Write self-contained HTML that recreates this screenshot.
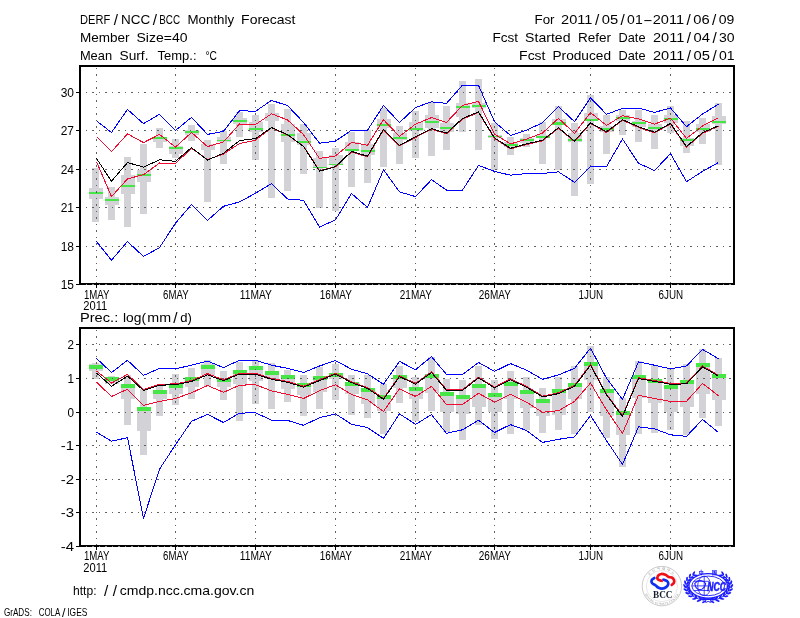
<!DOCTYPE html>
<html lang="en"><head><meta charset="utf-8"><title>DERF/NCC/BCC Monthly Forecast</title>
<style>html,body{margin:0;padding:0;background:#fff;}body{width:800px;height:618px;overflow:hidden;}svg{display:block;}svg text{font-family:'Liberation Sans', 'DejaVu Sans', sans-serif;fill:#000;}</style>
</head><body>
<svg width="800" height="618" viewBox="0 0 800 618">
<rect width="800" height="618" fill="#fff"/>
<text y="23.8" font-size="13.2" xml:space="preserve"><tspan x="80.1" textLength="30.2" lengthAdjust="spacingAndGlyphs">DERF</tspan><tspan x="113.7" dy="1.3" font-size="15.3">/</tspan><tspan x="121.1" dy="-1.3" textLength="29.2" lengthAdjust="spacingAndGlyphs">NCC</tspan><tspan x="152.7" dy="1.3" font-size="15.3">/</tspan><tspan x="159.3" dy="-1.3" textLength="20.8" lengthAdjust="spacingAndGlyphs">BCC</tspan> <tspan x="187.5" textLength="46.6" lengthAdjust="spacingAndGlyphs">Monthly</tspan> <tspan x="241.1" textLength="54.4" lengthAdjust="spacingAndGlyphs">Forecast</tspan></text>
<text y="42.1" font-size="13.2" xml:space="preserve"><tspan x="79.9" textLength="49.6" lengthAdjust="spacingAndGlyphs">Member</tspan> <tspan x="136.5" textLength="51.0" lengthAdjust="spacingAndGlyphs">Size=40</tspan></text>
<text y="60" font-size="13.2" xml:space="preserve"><tspan x="79.9" textLength="32.2" lengthAdjust="spacingAndGlyphs">Mean</tspan> <tspan x="119.5" textLength="29.0" lengthAdjust="spacingAndGlyphs">Surf.</tspan> <tspan x="157.5" textLength="39.0" lengthAdjust="spacingAndGlyphs">Temp.:</tspan> <tspan x="205.5" textLength="11.5" lengthAdjust="spacingAndGlyphs">°C</tspan></text>
<text y="23.8" font-size="13.2" xml:space="preserve"><tspan x="534.5" textLength="20.0" lengthAdjust="spacingAndGlyphs">For</tspan> <tspan x="561.1" textLength="31.3" lengthAdjust="spacingAndGlyphs">2011</tspan><tspan x="594.9" dy="1.3" font-size="15.3">/</tspan><tspan x="601.7" dy="-1.3" textLength="16.4" lengthAdjust="spacingAndGlyphs">05</tspan><tspan x="620.5" dy="1.3" font-size="15.3">/</tspan><tspan x="627.1" dy="-1.3" textLength="15.6" lengthAdjust="spacingAndGlyphs">01</tspan><tspan x="642.9" textLength="9.8" lengthAdjust="spacingAndGlyphs">-</tspan><tspan x="652.7" textLength="31.3" lengthAdjust="spacingAndGlyphs">2011</tspan><tspan x="686.5" dy="1.3" font-size="15.3">/</tspan><tspan x="693.3" dy="-1.3" textLength="16.4" lengthAdjust="spacingAndGlyphs">06</tspan><tspan x="712.1" dy="1.3" font-size="15.3">/</tspan><tspan x="718.7" dy="-1.3" textLength="15.6" lengthAdjust="spacingAndGlyphs">09</tspan></text>
<text y="42.1" font-size="13.2" xml:space="preserve"><tspan x="492.5" textLength="25.6" lengthAdjust="spacingAndGlyphs">Fcst</tspan> <tspan x="525.1" textLength="45.4" lengthAdjust="spacingAndGlyphs">Started</tspan> <tspan x="577.9" textLength="33.1" lengthAdjust="spacingAndGlyphs">Refer</tspan> <tspan x="618.5" textLength="27.0" lengthAdjust="spacingAndGlyphs">Date</tspan> <tspan x="653.0" textLength="31.3" lengthAdjust="spacingAndGlyphs">2011</tspan><tspan x="686.8" dy="1.3" font-size="15.3">/</tspan><tspan x="693.6" dy="-1.3" textLength="16.4" lengthAdjust="spacingAndGlyphs">04</tspan><tspan x="712.4" dy="1.3" font-size="15.3">/</tspan><tspan x="719.0" dy="-1.3" textLength="15.6" lengthAdjust="spacingAndGlyphs">30</tspan></text>
<text y="60" font-size="13.2" xml:space="preserve"><tspan x="519.1" textLength="26.4" lengthAdjust="spacingAndGlyphs">Fcst</tspan> <tspan x="552.5" textLength="58.5" lengthAdjust="spacingAndGlyphs">Produced</tspan> <tspan x="618.5" textLength="27.0" lengthAdjust="spacingAndGlyphs">Date</tspan> <tspan x="653.0" textLength="31.3" lengthAdjust="spacingAndGlyphs">2011</tspan><tspan x="686.8" dy="1.3" font-size="15.3">/</tspan><tspan x="693.6" dy="-1.3" textLength="16.4" lengthAdjust="spacingAndGlyphs">05</tspan><tspan x="712.4" dy="1.3" font-size="15.3">/</tspan><tspan x="719.0" dy="-1.3" textLength="15.6" lengthAdjust="spacingAndGlyphs">01</tspan></text>
<g shape-rendering="crispEdges">
<rect x="92.0" y="168.2" width="7.0" height="53.4" fill="#d3d3d7"/>
<rect x="89.0" y="188.2" width="14.0" height="10.6" fill="#d3d3d7"/>
<rect x="108.0" y="187.0" width="7.0" height="32.6" fill="#d3d3d7"/>
<rect x="105.0" y="197.2" width="14.0" height="7.6" fill="#d3d3d7"/>
<rect x="124.0" y="156.9" width="7.0" height="69.9" fill="#d3d3d7"/>
<rect x="121.0" y="175.0" width="14.0" height="18.7" fill="#d3d3d7"/>
<rect x="140.0" y="143.9" width="7.0" height="69.9" fill="#d3d3d7"/>
<rect x="137.0" y="169.9" width="14.0" height="11.8" fill="#d3d3d7"/>
<rect x="156.0" y="128.0" width="7.0" height="19.6" fill="#d3d3d7"/>
<rect x="153.0" y="136.6" width="14.0" height="5.3" fill="#d3d3d7"/>
<rect x="172.0" y="139.0" width="7.0" height="18.7" fill="#d3d3d7"/>
<rect x="169.0" y="146.3" width="14.0" height="7.3" fill="#d3d3d7"/>
<rect x="188.0" y="124.9" width="7.0" height="16.5" fill="#d3d3d7"/>
<rect x="185.0" y="130.0" width="14.0" height="5.0" fill="#d3d3d7"/>
<rect x="204.0" y="139.8" width="7.0" height="61.9" fill="#d3d3d7"/>
<rect x="201.0" y="143.9" width="14.0" height="5.7" fill="#d3d3d7"/>
<rect x="220.0" y="131.0" width="7.0" height="32.7" fill="#d3d3d7"/>
<rect x="217.0" y="137.0" width="14.0" height="4.9" fill="#d3d3d7"/>
<rect x="236.0" y="111.8" width="7.0" height="24.9" fill="#d3d3d7"/>
<rect x="233.0" y="118.3" width="14.0" height="5.7" fill="#d3d3d7"/>
<rect x="252.0" y="115.0" width="7.0" height="44.7" fill="#d3d3d7"/>
<rect x="249.0" y="122.4" width="14.0" height="9.7" fill="#d3d3d7"/>
<rect x="268.0" y="104.2" width="7.0" height="93.5" fill="#d3d3d7"/>
<rect x="265.0" y="113.0" width="14.0" height="7.7" fill="#d3d3d7"/>
<rect x="284.0" y="109.0" width="7.0" height="81.5" fill="#d3d3d7"/>
<rect x="281.0" y="124.0" width="14.0" height="17.9" fill="#d3d3d7"/>
<rect x="300.0" y="124.0" width="7.0" height="49.7" fill="#d3d3d7"/>
<rect x="297.0" y="132.9" width="14.0" height="12.5" fill="#d3d3d7"/>
<rect x="316.0" y="150.8" width="7.0" height="57.6" fill="#d3d3d7"/>
<rect x="313.0" y="158.1" width="14.0" height="9.9" fill="#d3d3d7"/>
<rect x="332.0" y="148.0" width="7.0" height="62.7" fill="#d3d3d7"/>
<rect x="329.0" y="155.2" width="14.0" height="9.3" fill="#d3d3d7"/>
<rect x="348.0" y="131.9" width="7.0" height="54.7" fill="#d3d3d7"/>
<rect x="345.0" y="141.9" width="14.0" height="9.5" fill="#d3d3d7"/>
<rect x="364.0" y="130.2" width="7.0" height="52.3" fill="#d3d3d7"/>
<rect x="361.0" y="144.0" width="14.0" height="10.6" fill="#d3d3d7"/>
<rect x="380.0" y="107.5" width="7.0" height="59.9" fill="#d3d3d7"/>
<rect x="377.0" y="118.9" width="14.0" height="8.9" fill="#d3d3d7"/>
<rect x="396.0" y="126.2" width="7.0" height="37.5" fill="#d3d3d7"/>
<rect x="393.0" y="132.7" width="14.0" height="7.3" fill="#d3d3d7"/>
<rect x="412.0" y="111.0" width="7.0" height="46.8" fill="#d3d3d7"/>
<rect x="409.0" y="122.1" width="14.0" height="8.9" fill="#d3d3d7"/>
<rect x="428.0" y="102.3" width="7.0" height="53.2" fill="#d3d3d7"/>
<rect x="425.0" y="114.8" width="14.0" height="13.0" fill="#d3d3d7"/>
<rect x="443.0" y="106.2" width="7.0" height="43.5" fill="#d3d3d7"/>
<rect x="440.0" y="122.9" width="14.0" height="9.0" fill="#d3d3d7"/>
<rect x="459.0" y="81.2" width="7.0" height="50.3" fill="#d3d3d7"/>
<rect x="456.0" y="102.9" width="14.0" height="14.0" fill="#d3d3d7"/>
<rect x="475.0" y="78.9" width="7.0" height="70.7" fill="#d3d3d7"/>
<rect x="472.0" y="103.0" width="14.0" height="5.0" fill="#d3d3d7"/>
<rect x="491.0" y="122.8" width="7.0" height="47.0" fill="#d3d3d7"/>
<rect x="488.0" y="134.5" width="14.0" height="3.0" fill="#d3d3d7"/>
<rect x="507.0" y="136.9" width="7.0" height="18.5" fill="#d3d3d7"/>
<rect x="504.0" y="141.5" width="14.0" height="5.7" fill="#d3d3d7"/>
<rect x="523.0" y="133.9" width="7.0" height="13.5" fill="#d3d3d7"/>
<rect x="520.0" y="138.2" width="14.0" height="4.9" fill="#d3d3d7"/>
<rect x="539.0" y="122.0" width="7.0" height="42.4" fill="#d3d3d7"/>
<rect x="536.0" y="135.0" width="14.0" height="3.2" fill="#d3d3d7"/>
<rect x="555.0" y="106.1" width="7.0" height="63.4" fill="#d3d3d7"/>
<rect x="552.0" y="118.7" width="14.0" height="6.5" fill="#d3d3d7"/>
<rect x="571.0" y="122.8" width="7.0" height="72.7" fill="#d3d3d7"/>
<rect x="568.0" y="132.6" width="14.0" height="8.9" fill="#d3d3d7"/>
<rect x="587.0" y="94.7" width="7.0" height="88.9" fill="#d3d3d7"/>
<rect x="584.0" y="113.1" width="14.0" height="8.1" fill="#d3d3d7"/>
<rect x="603.0" y="114.8" width="7.0" height="39.0" fill="#d3d3d7"/>
<rect x="600.0" y="126.2" width="14.0" height="5.7" fill="#d3d3d7"/>
<rect x="619.0" y="109.9" width="7.0" height="24.9" fill="#d3d3d7"/>
<rect x="616.0" y="114.8" width="14.0" height="5.7" fill="#d3d3d7"/>
<rect x="635.0" y="110.4" width="7.0" height="31.2" fill="#d3d3d7"/>
<rect x="632.0" y="121.3" width="14.0" height="5.4" fill="#d3d3d7"/>
<rect x="651.0" y="114.8" width="7.0" height="34.1" fill="#d3d3d7"/>
<rect x="648.0" y="123.7" width="14.0" height="6.5" fill="#d3d3d7"/>
<rect x="667.0" y="106.2" width="7.0" height="26.5" fill="#d3d3d7"/>
<rect x="664.0" y="114.8" width="14.0" height="8.1" fill="#d3d3d7"/>
<rect x="683.0" y="121.0" width="7.0" height="31.7" fill="#d3d3d7"/>
<rect x="680.0" y="137.6" width="14.0" height="8.4" fill="#d3d3d7"/>
<rect x="699.0" y="118.1" width="7.0" height="25.6" fill="#d3d3d7"/>
<rect x="696.0" y="123.7" width="14.0" height="8.2" fill="#d3d3d7"/>
<rect x="715.0" y="102.9" width="7.0" height="61.6" fill="#d3d3d7"/>
<rect x="712.0" y="115.9" width="14.0" height="7.8" fill="#d3d3d7"/>
<rect x="89.0" y="191.9" width="14.0" height="2.0" fill="#46e646"/>
<rect x="105.0" y="198.5" width="14.0" height="2.0" fill="#46e646"/>
<rect x="121.0" y="184.9" width="14.0" height="2.0" fill="#46e646"/>
<rect x="137.0" y="173.9" width="14.0" height="2.0" fill="#46e646"/>
<rect x="153.0" y="137.0" width="14.0" height="2.0" fill="#46e646"/>
<rect x="169.0" y="146.8" width="14.0" height="2.0" fill="#46e646"/>
<rect x="185.0" y="130.9" width="14.0" height="2.0" fill="#46e646"/>
<rect x="217.0" y="140.0" width="14.0" height="1.0" fill="#46e646"/>
<rect x="233.0" y="120.0" width="14.0" height="2.0" fill="#46e646"/>
<rect x="249.0" y="127.9" width="14.0" height="2.0" fill="#46e646"/>
<rect x="281.0" y="133.8" width="14.0" height="2.0" fill="#46e646"/>
<rect x="297.0" y="140.8" width="14.0" height="2.0" fill="#46e646"/>
<rect x="313.0" y="166.8" width="14.0" height="1.0" fill="#46e646"/>
<rect x="329.0" y="163.9" width="14.0" height="1.0" fill="#46e646"/>
<rect x="345.0" y="148.9" width="14.0" height="2.0" fill="#46e646"/>
<rect x="361.0" y="149.8" width="14.0" height="2.0" fill="#46e646"/>
<rect x="377.0" y="123.8" width="14.0" height="2.0" fill="#46e646"/>
<rect x="393.0" y="136.8" width="14.0" height="2.0" fill="#46e646"/>
<rect x="409.0" y="127.8" width="14.0" height="2.0" fill="#46e646"/>
<rect x="425.0" y="121.0" width="14.0" height="2.0" fill="#46e646"/>
<rect x="440.0" y="126.7" width="14.0" height="2.0" fill="#46e646"/>
<rect x="456.0" y="105.8" width="14.0" height="2.0" fill="#46e646"/>
<rect x="472.0" y="104.7" width="14.0" height="2.0" fill="#46e646"/>
<rect x="488.0" y="135.7" width="14.0" height="1.0" fill="#46e646"/>
<rect x="504.0" y="144.0" width="14.0" height="2.0" fill="#46e646"/>
<rect x="520.0" y="139.0" width="14.0" height="2.0" fill="#46e646"/>
<rect x="536.0" y="135.8" width="14.0" height="2.0" fill="#46e646"/>
<rect x="552.0" y="122.2" width="14.0" height="2.5" fill="#46e646"/>
<rect x="568.0" y="139.0" width="14.0" height="2.0" fill="#46e646"/>
<rect x="584.0" y="118.7" width="14.0" height="2.0" fill="#46e646"/>
<rect x="600.0" y="128.0" width="14.0" height="2.0" fill="#46e646"/>
<rect x="616.0" y="116.8" width="14.0" height="2.0" fill="#46e646"/>
<rect x="632.0" y="121.8" width="14.0" height="2.0" fill="#46e646"/>
<rect x="648.0" y="126.8" width="14.0" height="2.0" fill="#46e646"/>
<rect x="664.0" y="117.9" width="14.0" height="2.0" fill="#46e646"/>
<rect x="680.0" y="139.0" width="14.0" height="2.0" fill="#46e646"/>
<rect x="696.0" y="127.8" width="14.0" height="2.0" fill="#46e646"/>
<rect x="712.0" y="121.0" width="14.0" height="2.0" fill="#46e646"/>
</g>
<g stroke="#606060" stroke-width="1" stroke-dasharray="1.9 4.6" fill="none" shape-rendering="crispEdges">
<line x1="85.5" y1="92.5" x2="732" y2="92.5"/>
<line x1="85.5" y1="130.5" x2="732" y2="130.5"/>
<line x1="85.5" y1="169.5" x2="732" y2="169.5"/>
<line x1="85.5" y1="207.5" x2="732" y2="207.5"/>
<line x1="85.5" y1="246.5" x2="732" y2="246.5"/>
<line x1="96.5" y1="67.5" x2="96.5" y2="283"/>
<line x1="175.5" y1="67.5" x2="175.5" y2="283"/>
<line x1="255.5" y1="67.5" x2="255.5" y2="283"/>
<line x1="335.5" y1="67.5" x2="335.5" y2="283"/>
<line x1="415.5" y1="67.5" x2="415.5" y2="283"/>
<line x1="494.5" y1="67.5" x2="494.5" y2="283"/>
<line x1="590.5" y1="67.5" x2="590.5" y2="283"/>
<line x1="670.5" y1="67.5" x2="670.5" y2="283"/>
</g>
<g stroke-linejoin="round" shape-rendering="crispEdges">
<polyline points="96.5,120.8 111.5,132.5 127.5,109.4 143.5,123.6 159.5,114.3 175.5,130.5 191.5,117.4 207.5,134.4 223.5,131.3 239.5,110.7 255.5,111.3 271.5,100.4 287.5,105.6 303.5,122.4 319.5,143.2 335.5,141.1 351.5,130.2 367.5,130.2 383.5,105.5 399.5,122.6 415.5,107.5 431.5,101.8 446.5,103.4 462.5,85.1 478.5,85.4 494.5,121.7 510.5,135.5 526.5,130.1 542.5,122.8 558.5,106.6 574.5,121.7 590.5,97.9 606.5,114.3 622.5,108.3 638.5,108.0 654.5,112.4 670.5,108.0 686.5,126.7 702.5,114.0 718.5,104.2" fill="none" stroke="#0000ff" stroke-width="1.0"/>
<polyline points="96.5,241.5 111.5,260.2 127.5,241.5 143.5,256.5 159.5,247.6 175.5,223.2 191.5,204.5 207.5,220.4 223.5,206.3 239.5,201.9 255.5,193.3 271.5,183.6 287.5,199.0 303.5,200.3 319.5,227.1 335.5,219.8 351.5,193.5 367.5,207.4 383.5,169.8 399.5,191.9 415.5,196.6 431.5,179.7 446.5,190.1 462.5,190.1 478.5,165.4 494.5,171.4 510.5,175.2 526.5,173.5 542.5,173.4 558.5,171.9 574.5,182.3 590.5,166.6 606.5,166.6 622.5,138.9 638.5,163.3 654.5,170.6 670.5,153.6 686.5,181.7 702.5,171.4 718.5,162.5" fill="none" stroke="#0000ff" stroke-width="1.0"/>
<polyline points="96.5,136.6 111.5,151.7 127.5,133.8 143.5,142.6 159.5,134.4 175.5,147.1 191.5,132.5 207.5,146.6 223.5,141.9 239.5,124.0 255.5,124.5 271.5,113.8 287.5,119.9 303.5,134.6 319.5,158.4 335.5,156.0 351.5,142.4 367.5,145.2 383.5,119.7 399.5,136.4 415.5,124.1 431.5,117.6 446.5,122.4 462.5,105.5 478.5,101.4 494.5,134.2 510.5,143.9 526.5,139.1 542.5,133.0 558.5,118.3 574.5,133.4 590.5,112.6 606.5,125.4 622.5,115.6 638.5,118.9 654.5,124.1 670.5,118.1 686.5,138.4 702.5,125.9 718.5,117.6" fill="none" stroke="#ee0c30" stroke-width="1.0"/>
<polyline points="96.5,161.7 111.5,196.7 127.5,178.8 143.5,174.7 159.5,163.0 175.5,163.4 191.5,148.3 207.5,159.6 223.5,154.0 239.5,143.5 255.5,140.2 271.5,127.8 287.5,135.0 303.5,146.2 319.5,170.5 335.5,166.8 351.5,152.0 367.5,156.8 383.5,130.0 399.5,145.8 415.5,137.5 431.5,129.2 446.5,133.8 462.5,119.1 478.5,112.5 494.5,138.5 510.5,148.9 526.5,144.5 542.5,140.8 558.5,128.3 574.5,141.6 590.5,123.4 606.5,132.5 622.5,120.3 638.5,127.3 654.5,132.8 670.5,124.0 686.5,147.1 702.5,133.3 718.5,126.3" fill="none" stroke="#ee0c30" stroke-width="1.0"/>
<polyline points="96.5,158.5 111.5,181.2 127.5,162.6 143.5,167.1 159.5,159.8 175.5,161.3 191.5,147.6 207.5,160.1 223.5,153.2 239.5,140.6 255.5,138.6 271.5,127.6 287.5,134.6 303.5,146.4 319.5,171.1 335.5,166.7 351.5,151.4 367.5,156.2 383.5,129.4 399.5,145.2 415.5,136.9 431.5,128.6 446.5,133.2 462.5,118.5 478.5,111.9 494.5,137.9 510.5,148.3 526.5,143.9 542.5,140.2 558.5,127.7 574.5,141.0 590.5,122.8 606.5,131.9 622.5,119.7 638.5,126.7 654.5,132.2 670.5,123.4 686.5,146.5 702.5,132.7 718.5,125.7" fill="none" stroke="#000" stroke-width="1.0"/>
</g>
<rect x="80" y="66" width="654" height="218" fill="none" stroke="#000" stroke-width="2" shape-rendering="crispEdges"/>
<line x1="85.5" y1="284.5" x2="732" y2="284.5" stroke="#8a8a8a" stroke-width="1" stroke-dasharray="1.5 5" shape-rendering="crispEdges"/>
<g stroke="#000" stroke-width="1" shape-rendering="crispEdges">
<line x1="76" y1="92.5" x2="80" y2="92.5"/>
<line x1="76" y1="130.5" x2="80" y2="130.5"/>
<line x1="76" y1="169.5" x2="80" y2="169.5"/>
<line x1="76" y1="207.5" x2="80" y2="207.5"/>
<line x1="76" y1="246.5" x2="80" y2="246.5"/>
<line x1="76" y1="284.5" x2="80" y2="284.5"/>
<line x1="96.5" y1="284" x2="96.5" y2="288"/>
<line x1="175.5" y1="284" x2="175.5" y2="288"/>
<line x1="255.5" y1="284" x2="255.5" y2="288"/>
<line x1="335.5" y1="284" x2="335.5" y2="288"/>
<line x1="415.5" y1="284" x2="415.5" y2="288"/>
<line x1="494.5" y1="284" x2="494.5" y2="288"/>
<line x1="590.5" y1="284" x2="590.5" y2="288"/>
<line x1="670.5" y1="284" x2="670.5" y2="288"/>
</g>
<text x="60.7" y="96.5" font-size="12.5" textLength="13.3" lengthAdjust="spacingAndGlyphs">30</text>
<text x="60.7" y="134.5" font-size="12.5" textLength="13.3" lengthAdjust="spacingAndGlyphs">27</text>
<text x="60.7" y="173.5" font-size="12.5" textLength="13.3" lengthAdjust="spacingAndGlyphs">24</text>
<text x="60.7" y="211.5" font-size="12.5" textLength="13.3" lengthAdjust="spacingAndGlyphs">21</text>
<text x="60.7" y="250.5" font-size="12.5" textLength="13.3" lengthAdjust="spacingAndGlyphs">18</text>
<text x="60.7" y="288.5" font-size="12.5" textLength="13.3" lengthAdjust="spacingAndGlyphs">15</text>
<text x="84.0" y="298.8" font-size="12" textLength="25.5" lengthAdjust="spacingAndGlyphs">1MAY</text>
<text x="163.1" y="298.8" font-size="12" textLength="25.5" lengthAdjust="spacingAndGlyphs">6MAY</text>
<text x="239.8" y="298.8" font-size="12" textLength="32.0" lengthAdjust="spacingAndGlyphs">11MAY</text>
<text x="319.8" y="298.8" font-size="12" textLength="32.0" lengthAdjust="spacingAndGlyphs">16MAY</text>
<text x="399.8" y="298.8" font-size="12" textLength="32.0" lengthAdjust="spacingAndGlyphs">21MAY</text>
<text x="478.8" y="298.8" font-size="12" textLength="32.0" lengthAdjust="spacingAndGlyphs">26MAY</text>
<text x="578.5" y="298.8" font-size="12" textLength="24.6" lengthAdjust="spacingAndGlyphs">1JUN</text>
<text x="658.5" y="298.8" font-size="12" textLength="24.6" lengthAdjust="spacingAndGlyphs">6JUN</text>
<text x="83.3" y="309.6" font-size="12" textLength="24.0" lengthAdjust="spacingAndGlyphs">2011</text>
<text y="321.6" font-size="13.2" xml:space="preserve"><tspan x="80.0" textLength="38.2" lengthAdjust="spacingAndGlyphs">Prec.:</tspan> <tspan x="123.0" textLength="23.0" lengthAdjust="spacingAndGlyphs">log(</tspan><tspan x="147.3" textLength="23.8" lengthAdjust="spacingAndGlyphs">mm</tspan><tspan x="173.3" dy="1.3" font-size="15.3">/</tspan><tspan x="180.3" dy="-1.3" textLength="11.6" lengthAdjust="spacingAndGlyphs">d)</tspan></text>
<g shape-rendering="crispEdges">
<rect x="92.0" y="363.2" width="7.0" height="15.8" fill="#d3d3d7"/>
<rect x="89.0" y="364.4" width="14.0" height="6.5" fill="#d3d3d7"/>
<rect x="108.0" y="376.0" width="7.0" height="7.9" fill="#d3d3d7"/>
<rect x="105.0" y="376.6" width="14.0" height="7.3" fill="#d3d3d7"/>
<rect x="124.0" y="375.0" width="7.0" height="50.3" fill="#d3d3d7"/>
<rect x="121.0" y="383.9" width="14.0" height="15.4" fill="#d3d3d7"/>
<rect x="140.0" y="388.8" width="7.0" height="65.9" fill="#d3d3d7"/>
<rect x="137.0" y="406.6" width="14.0" height="24.0" fill="#d3d3d7"/>
<rect x="156.0" y="386.3" width="7.0" height="30.1" fill="#d3d3d7"/>
<rect x="153.0" y="390.0" width="14.0" height="9.3" fill="#d3d3d7"/>
<rect x="172.0" y="374.1" width="7.0" height="30.6" fill="#d3d3d7"/>
<rect x="169.0" y="383.9" width="14.0" height="9.7" fill="#d3d3d7"/>
<rect x="188.0" y="368.0" width="7.0" height="31.3" fill="#d3d3d7"/>
<rect x="185.0" y="376.6" width="14.0" height="10.5" fill="#d3d3d7"/>
<rect x="204.0" y="360.3" width="7.0" height="25.2" fill="#d3d3d7"/>
<rect x="201.0" y="364.4" width="14.0" height="10.5" fill="#d3d3d7"/>
<rect x="220.0" y="370.9" width="7.0" height="28.7" fill="#d3d3d7"/>
<rect x="217.0" y="378.2" width="14.0" height="8.9" fill="#d3d3d7"/>
<rect x="236.0" y="361.9" width="7.0" height="58.9" fill="#d3d3d7"/>
<rect x="233.0" y="370.1" width="14.0" height="13.4" fill="#d3d3d7"/>
<rect x="252.0" y="359.5" width="7.0" height="44.2" fill="#d3d3d7"/>
<rect x="249.0" y="365.7" width="14.0" height="15.7" fill="#d3d3d7"/>
<rect x="268.0" y="362.7" width="7.0" height="46.0" fill="#d3d3d7"/>
<rect x="265.0" y="370.9" width="14.0" height="8.1" fill="#d3d3d7"/>
<rect x="284.0" y="369.6" width="7.0" height="32.1" fill="#d3d3d7"/>
<rect x="281.0" y="374.9" width="14.0" height="13.8" fill="#d3d3d7"/>
<rect x="300.0" y="374.9" width="7.0" height="40.7" fill="#d3d3d7"/>
<rect x="297.0" y="383.1" width="14.0" height="12.1" fill="#d3d3d7"/>
<rect x="316.0" y="366.8" width="7.0" height="41.9" fill="#d3d3d7"/>
<rect x="313.0" y="376.1" width="14.0" height="15.6" fill="#d3d3d7"/>
<rect x="332.0" y="364.4" width="7.0" height="36.0" fill="#d3d3d7"/>
<rect x="329.0" y="372.5" width="14.0" height="6.5" fill="#d3d3d7"/>
<rect x="348.0" y="374.9" width="7.0" height="39.7" fill="#d3d3d7"/>
<rect x="345.0" y="381.9" width="14.0" height="11.7" fill="#d3d3d7"/>
<rect x="364.0" y="374.9" width="7.0" height="42.7" fill="#d3d3d7"/>
<rect x="361.0" y="387.9" width="14.0" height="16.3" fill="#d3d3d7"/>
<rect x="380.0" y="383.9" width="7.0" height="50.4" fill="#d3d3d7"/>
<rect x="377.0" y="394.9" width="14.0" height="15.8" fill="#d3d3d7"/>
<rect x="396.0" y="366.0" width="7.0" height="36.6" fill="#d3d3d7"/>
<rect x="393.0" y="374.9" width="14.0" height="13.0" fill="#d3d3d7"/>
<rect x="412.0" y="377.0" width="7.0" height="43.6" fill="#d3d3d7"/>
<rect x="409.0" y="387.1" width="14.0" height="12.2" fill="#d3d3d7"/>
<rect x="428.0" y="357.1" width="7.0" height="54.3" fill="#d3d3d7"/>
<rect x="425.0" y="373.8" width="14.0" height="19.5" fill="#d3d3d7"/>
<rect x="443.0" y="379.0" width="7.0" height="52.7" fill="#d3d3d7"/>
<rect x="440.0" y="392.0" width="14.0" height="20.3" fill="#d3d3d7"/>
<rect x="459.0" y="380.3" width="7.0" height="59.2" fill="#d3d3d7"/>
<rect x="456.0" y="395.2" width="14.0" height="19.2" fill="#d3d3d7"/>
<rect x="475.0" y="366.0" width="7.0" height="59.4" fill="#d3d3d7"/>
<rect x="472.0" y="383.5" width="14.0" height="23.9" fill="#d3d3d7"/>
<rect x="491.0" y="379.8" width="7.0" height="58.7" fill="#d3d3d7"/>
<rect x="488.0" y="392.8" width="14.0" height="19.5" fill="#d3d3d7"/>
<rect x="507.0" y="370.9" width="7.0" height="62.7" fill="#d3d3d7"/>
<rect x="504.0" y="381.9" width="14.0" height="17.4" fill="#d3d3d7"/>
<rect x="523.0" y="377.0" width="7.0" height="53.4" fill="#d3d3d7"/>
<rect x="520.0" y="390.0" width="14.0" height="18.2" fill="#d3d3d7"/>
<rect x="539.0" y="387.9" width="7.0" height="44.6" fill="#d3d3d7"/>
<rect x="536.0" y="398.8" width="14.0" height="16.7" fill="#d3d3d7"/>
<rect x="555.0" y="376.6" width="7.0" height="52.9" fill="#d3d3d7"/>
<rect x="552.0" y="388.7" width="14.0" height="25.8" fill="#d3d3d7"/>
<rect x="571.0" y="366.0" width="7.0" height="67.6" fill="#d3d3d7"/>
<rect x="568.0" y="383.1" width="14.0" height="15.4" fill="#d3d3d7"/>
<rect x="587.0" y="346.2" width="7.0" height="66.1" fill="#d3d3d7"/>
<rect x="584.0" y="361.9" width="14.0" height="18.1" fill="#d3d3d7"/>
<rect x="603.0" y="377.0" width="7.0" height="61.4" fill="#d3d3d7"/>
<rect x="600.0" y="388.7" width="14.0" height="26.9" fill="#d3d3d7"/>
<rect x="619.0" y="397.7" width="7.0" height="69.7" fill="#d3d3d7"/>
<rect x="616.0" y="411.0" width="14.0" height="24.2" fill="#d3d3d7"/>
<rect x="635.0" y="360.8" width="7.0" height="72.8" fill="#d3d3d7"/>
<rect x="632.0" y="374.9" width="14.0" height="22.8" fill="#d3d3d7"/>
<rect x="651.0" y="365.2" width="7.0" height="67.3" fill="#d3d3d7"/>
<rect x="648.0" y="379.0" width="14.0" height="24.4" fill="#d3d3d7"/>
<rect x="667.0" y="369.2" width="7.0" height="61.1" fill="#d3d3d7"/>
<rect x="664.0" y="384.7" width="14.0" height="26.8" fill="#d3d3d7"/>
<rect x="683.0" y="364.4" width="7.0" height="70.1" fill="#d3d3d7"/>
<rect x="680.0" y="379.8" width="14.0" height="27.6" fill="#d3d3d7"/>
<rect x="699.0" y="348.9" width="7.0" height="68.7" fill="#d3d3d7"/>
<rect x="696.0" y="363.1" width="14.0" height="30.5" fill="#d3d3d7"/>
<rect x="715.0" y="357.9" width="7.0" height="68.5" fill="#d3d3d7"/>
<rect x="712.0" y="373.8" width="14.0" height="25.8" fill="#d3d3d7"/>
<rect x="89.0" y="364.9" width="14.0" height="4.0" fill="#46e646"/>
<rect x="105.0" y="377.0" width="14.0" height="3.6" fill="#46e646"/>
<rect x="121.0" y="383.9" width="14.0" height="3.7" fill="#46e646"/>
<rect x="137.0" y="407.0" width="14.0" height="4.0" fill="#46e646"/>
<rect x="153.0" y="390.0" width="14.0" height="3.6" fill="#46e646"/>
<rect x="169.0" y="384.4" width="14.0" height="3.5" fill="#46e646"/>
<rect x="185.0" y="377.0" width="14.0" height="3.6" fill="#46e646"/>
<rect x="201.0" y="364.9" width="14.0" height="4.0" fill="#46e646"/>
<rect x="217.0" y="378.5" width="14.0" height="3.3" fill="#46e646"/>
<rect x="233.0" y="370.1" width="14.0" height="3.7" fill="#46e646"/>
<rect x="249.0" y="366.0" width="14.0" height="3.7" fill="#46e646"/>
<rect x="265.0" y="370.9" width="14.0" height="4.0" fill="#46e646"/>
<rect x="281.0" y="374.9" width="14.0" height="4.1" fill="#46e646"/>
<rect x="297.0" y="383.1" width="14.0" height="4.0" fill="#46e646"/>
<rect x="313.0" y="376.1" width="14.0" height="3.7" fill="#46e646"/>
<rect x="329.0" y="373.0" width="14.0" height="3.6" fill="#46e646"/>
<rect x="345.0" y="381.9" width="14.0" height="4.1" fill="#46e646"/>
<rect x="361.0" y="387.9" width="14.0" height="4.1" fill="#46e646"/>
<rect x="377.0" y="394.9" width="14.0" height="3.9" fill="#46e646"/>
<rect x="393.0" y="374.9" width="14.0" height="4.1" fill="#46e646"/>
<rect x="409.0" y="387.1" width="14.0" height="3.8" fill="#46e646"/>
<rect x="425.0" y="373.8" width="14.0" height="4.1" fill="#46e646"/>
<rect x="440.0" y="392.0" width="14.0" height="3.7" fill="#46e646"/>
<rect x="456.0" y="395.2" width="14.0" height="3.6" fill="#46e646"/>
<rect x="472.0" y="383.9" width="14.0" height="4.0" fill="#46e646"/>
<rect x="488.0" y="392.8" width="14.0" height="4.1" fill="#46e646"/>
<rect x="504.0" y="381.9" width="14.0" height="3.9" fill="#46e646"/>
<rect x="520.0" y="390.0" width="14.0" height="4.0" fill="#46e646"/>
<rect x="536.0" y="398.8" width="14.0" height="4.1" fill="#46e646"/>
<rect x="552.0" y="389.1" width="14.0" height="3.7" fill="#46e646"/>
<rect x="568.0" y="383.1" width="14.0" height="4.0" fill="#46e646"/>
<rect x="584.0" y="361.9" width="14.0" height="4.1" fill="#46e646"/>
<rect x="600.0" y="388.7" width="14.0" height="4.1" fill="#46e646"/>
<rect x="616.0" y="411.0" width="14.0" height="4.0" fill="#46e646"/>
<rect x="632.0" y="374.9" width="14.0" height="4.1" fill="#46e646"/>
<rect x="648.0" y="379.0" width="14.0" height="3.6" fill="#46e646"/>
<rect x="664.0" y="384.7" width="14.0" height="4.0" fill="#46e646"/>
<rect x="680.0" y="379.8" width="14.0" height="4.1" fill="#46e646"/>
<rect x="696.0" y="363.1" width="14.0" height="3.7" fill="#46e646"/>
<rect x="712.0" y="373.8" width="14.0" height="3.9" fill="#46e646"/>
</g>
<g stroke="#606060" stroke-width="1" stroke-dasharray="1.9 4.6" fill="none" shape-rendering="crispEdges">
<line x1="85.5" y1="344.5" x2="732" y2="344.5"/>
<line x1="85.5" y1="378.5" x2="732" y2="378.5"/>
<line x1="85.5" y1="412.5" x2="732" y2="412.5"/>
<line x1="85.5" y1="445.5" x2="732" y2="445.5"/>
<line x1="85.5" y1="479.5" x2="732" y2="479.5"/>
<line x1="85.5" y1="512.5" x2="732" y2="512.5"/>
<line x1="96.5" y1="329.5" x2="96.5" y2="545"/>
<line x1="175.5" y1="329.5" x2="175.5" y2="545"/>
<line x1="255.5" y1="329.5" x2="255.5" y2="545"/>
<line x1="335.5" y1="329.5" x2="335.5" y2="545"/>
<line x1="415.5" y1="329.5" x2="415.5" y2="545"/>
<line x1="494.5" y1="329.5" x2="494.5" y2="545"/>
<line x1="590.5" y1="329.5" x2="590.5" y2="545"/>
<line x1="670.5" y1="329.5" x2="670.5" y2="545"/>
</g>
<g stroke-linejoin="round" shape-rendering="crispEdges">
<polyline points="96.5,358.4 111.5,372.5 127.5,360.3 143.5,375.4 159.5,368.4 175.5,368.8 191.5,365.2 207.5,361.1 223.5,367.6 239.5,360.3 255.5,360.3 271.5,365.2 287.5,368.4 303.5,372.5 319.5,366.0 335.5,360.6 351.5,369.2 367.5,373.8 383.5,384.2 399.5,361.4 415.5,369.7 431.5,356.6 446.5,374.4 462.5,374.4 478.5,362.4 494.5,371.4 510.5,363.6 526.5,370.1 542.5,379.3 558.5,374.9 574.5,368.4 590.5,348.1 606.5,378.2 622.5,399.3 638.5,361.9 654.5,365.2 670.5,368.9 686.5,366.0 702.5,349.4 718.5,358.7" fill="none" stroke="#0000ff" stroke-width="1.0"/>
<polyline points="96.5,432.3 111.5,441.2 127.5,437.7 143.5,518.4 159.5,469.2 175.5,444.8 191.5,421.3 207.5,414.4 223.5,422.5 239.5,413.1 255.5,412.8 271.5,420.1 287.5,420.4 303.5,425.3 319.5,417.7 335.5,413.9 351.5,424.3 367.5,427.6 383.5,438.4 399.5,413.8 415.5,424.4 431.5,414.6 446.5,433.3 462.5,429.8 478.5,420.2 494.5,432.5 510.5,424.6 526.5,430.5 542.5,442.4 558.5,439.3 574.5,437.0 590.5,415.5 606.5,440.6 622.5,464.5 638.5,426.8 654.5,428.8 670.5,434.8 686.5,436.4 702.5,419.5 718.5,432.5" fill="none" stroke="#0000ff" stroke-width="1.0"/>
<polyline points="96.5,382.2 111.5,396.5 127.5,389.2 143.5,405.5 159.5,401.4 175.5,398.5 191.5,392.8 207.5,385.5 223.5,392.3 239.5,385.2 255.5,384.7 271.5,390.9 287.5,394.4 303.5,398.5 319.5,390.7 335.5,384.7 351.5,394.4 367.5,399.8 383.5,411.5 399.5,388.7 415.5,396.5 431.5,386.3 446.5,404.5 462.5,404.5 478.5,393.3 494.5,402.1 510.5,394.4 526.5,402.1 542.5,412.3 558.5,410.7 574.5,401.4 590.5,383.1 606.5,409.9 622.5,433.4 638.5,395.2 654.5,398.5 670.5,401.4 686.5,401.3 702.5,383.5 718.5,395.7" fill="none" stroke="#ee0c30" stroke-width="1.0"/>
<polyline points="96.5,370.9 111.5,383.1 127.5,374.4 143.5,389.6 159.5,384.2 175.5,383.9 191.5,380.6 207.5,373.6 223.5,379.8 239.5,373.3 255.5,373.3 271.5,378.5 287.5,381.4 303.5,386.3 319.5,379.8 335.5,373.3 351.5,381.8 367.5,387.6 383.5,398.5 399.5,375.8 415.5,383.4 431.5,371.7 446.5,389.6 462.5,389.6 478.5,377.1 494.5,387.1 510.5,379.0 526.5,386.3 542.5,396.1 558.5,392.8 574.5,385.5 590.5,364.4 606.5,394.1 622.5,415.6 638.5,377.7 654.5,380.6 670.5,383.4 686.5,383.1 702.5,366.0 718.5,375.3" fill="none" stroke="#ee0c30" stroke-width="1.0"/>
<polyline points="96.5,373.0 111.5,386.3 127.5,376.1 143.5,390.4 159.5,385.2 175.5,384.7 191.5,381.4 207.5,374.9 223.5,380.6 239.5,374.1 255.5,374.1 271.5,379.3 287.5,382.2 303.5,387.1 319.5,380.6 335.5,374.1 351.5,382.6 367.5,388.4 383.5,399.3 399.5,376.6 415.5,384.2 431.5,372.5 446.5,390.4 462.5,390.4 478.5,377.9 494.5,387.9 510.5,379.8 526.5,387.1 542.5,396.9 558.5,393.6 574.5,386.3 590.5,365.2 606.5,394.9 622.5,416.4 638.5,378.5 654.5,381.4 670.5,384.2 686.5,383.9 702.5,366.8 718.5,376.1" fill="none" stroke="#000" stroke-width="1.0"/>
</g>
<rect x="80" y="328" width="654" height="218" fill="none" stroke="#000" stroke-width="2" shape-rendering="crispEdges"/>
<line x1="85.5" y1="546.5" x2="732" y2="546.5" stroke="#8a8a8a" stroke-width="1" stroke-dasharray="1.5 5" shape-rendering="crispEdges"/>
<g stroke="#000" stroke-width="1" shape-rendering="crispEdges">
<line x1="76" y1="344.5" x2="80" y2="344.5"/>
<line x1="76" y1="378.5" x2="80" y2="378.5"/>
<line x1="76" y1="412.5" x2="80" y2="412.5"/>
<line x1="76" y1="445.5" x2="80" y2="445.5"/>
<line x1="76" y1="479.5" x2="80" y2="479.5"/>
<line x1="76" y1="512.5" x2="80" y2="512.5"/>
<line x1="76" y1="546.5" x2="80" y2="546.5"/>
<line x1="96.5" y1="546" x2="96.5" y2="550"/>
<line x1="175.5" y1="546" x2="175.5" y2="550"/>
<line x1="255.5" y1="546" x2="255.5" y2="550"/>
<line x1="335.5" y1="546" x2="335.5" y2="550"/>
<line x1="415.5" y1="546" x2="415.5" y2="550"/>
<line x1="494.5" y1="546" x2="494.5" y2="550"/>
<line x1="590.5" y1="546" x2="590.5" y2="550"/>
<line x1="670.5" y1="546" x2="670.5" y2="550"/>
</g>
<text x="67.5" y="348.5" font-size="12.5" textLength="6.5" lengthAdjust="spacingAndGlyphs">2</text>
<text x="67.5" y="382.5" font-size="12.5" textLength="6.5" lengthAdjust="spacingAndGlyphs">1</text>
<text x="67.5" y="416.5" font-size="12.5" textLength="6.5" lengthAdjust="spacingAndGlyphs">0</text>
<text x="60.7" y="449.5" font-size="12.5" textLength="13.3" lengthAdjust="spacingAndGlyphs">-1</text>
<text x="60.7" y="483.5" font-size="12.5" textLength="13.3" lengthAdjust="spacingAndGlyphs">-2</text>
<text x="60.7" y="516.5" font-size="12.5" textLength="13.3" lengthAdjust="spacingAndGlyphs">-3</text>
<text x="60.7" y="550.5" font-size="12.5" textLength="13.3" lengthAdjust="spacingAndGlyphs">-4</text>
<text x="84.0" y="560.2" font-size="12" textLength="25.5" lengthAdjust="spacingAndGlyphs">1MAY</text>
<text x="163.1" y="560.2" font-size="12" textLength="25.5" lengthAdjust="spacingAndGlyphs">6MAY</text>
<text x="239.8" y="560.2" font-size="12" textLength="32.0" lengthAdjust="spacingAndGlyphs">11MAY</text>
<text x="319.8" y="560.2" font-size="12" textLength="32.0" lengthAdjust="spacingAndGlyphs">16MAY</text>
<text x="399.8" y="560.2" font-size="12" textLength="32.0" lengthAdjust="spacingAndGlyphs">21MAY</text>
<text x="478.8" y="560.2" font-size="12" textLength="32.0" lengthAdjust="spacingAndGlyphs">26MAY</text>
<text x="578.5" y="560.2" font-size="12" textLength="24.6" lengthAdjust="spacingAndGlyphs">1JUN</text>
<text x="658.5" y="560.2" font-size="12" textLength="24.6" lengthAdjust="spacingAndGlyphs">6JUN</text>
<text x="83.3" y="571.6" font-size="12" textLength="24.0" lengthAdjust="spacingAndGlyphs">2011</text>
<text y="595.0" font-size="13.2" xml:space="preserve"><tspan x="73.0" textLength="23.5" lengthAdjust="spacingAndGlyphs">http:</tspan><tspan x="104.1" dy="1.3" font-size="15.3">/</tspan><tspan x="112.7" font-size="15.3">/</tspan><tspan x="119.7" dy="-1.3" textLength="134.6" lengthAdjust="spacingAndGlyphs">cmdp.ncc.cma.gov.cn</tspan></text>
<text y="615.8" font-size="10.8" xml:space="preserve"><tspan x="3.9" textLength="28.0" lengthAdjust="spacingAndGlyphs">GrADS:</tspan> <tspan x="38.7" textLength="21.6" lengthAdjust="spacingAndGlyphs">COLA</tspan><tspan x="61.9" dy="1.1" font-size="12.5">/</tspan><tspan x="67.3" dy="-1.1" textLength="20.0" lengthAdjust="spacingAndGlyphs">IGES</tspan></text>
<g id="bcc-logo">
<circle cx="661.9" cy="586.1" r="19.7" fill="#fff" stroke="#c4c4c4" stroke-width="0.9"/>
<circle cx="661.9" cy="586.1" r="15.6" fill="none" stroke="#d8d8d8" stroke-width="0.6"/>
<defs><path id="bcc-top" d="M645.6,586.1 A16.3,16.3 0 0 1 678.2,586.1"/><path id="bcc-bot" d="M643.2,586.1 A18.7,18.7 0 0 0 680.6,586.1"/></defs>
<text font-size="3.2" style="font-family:'Liberation Sans','Noto Sans CJK SC',sans-serif;fill:#9a9a9a" letter-spacing="1.6"><textPath href="#bcc-top" startOffset="50%" text-anchor="middle">北京气候中心</textPath></text>
<text font-size="2.9" style="font-family:'Liberation Serif',serif;fill:#8c8c8c" letter-spacing="0.25"><textPath href="#bcc-bot" startOffset="50%" text-anchor="middle">BEIJING CLIMATE CENTER</textPath></text>
<path d="M654.34,578.01 C653.89,578.37 652.01,579.32 651.65,580.19 C651.29,581.06 651.51,582.38 652.15,583.22 C652.80,584.06 654.54,584.54 655.52,585.24 C656.50,585.94 656.92,586.87 658.04,587.43 C659.17,587.99 660.85,588.69 662.25,588.61 C663.65,588.52 665.45,587.71 666.46,586.92 C667.47,586.14 668.23,584.88 668.31,583.90 C668.39,582.91 667.78,581.74 666.96,581.03 C666.15,580.33 664.02,579.91 663.43,579.69" fill="none" stroke="#1030f0" stroke-width="2.7" stroke-linecap="round"/>
<path d="M661.66,580.87 C661.00,580.59 658.31,580.03 657.71,579.18 C657.11,578.34 657.46,576.69 658.04,575.82 C658.63,574.95 660.01,574.14 661.24,573.97 C662.48,573.80 664.21,574.30 665.45,574.81 C666.68,575.31 667.59,576.55 668.65,577.00 C669.70,577.44 670.86,577.00 671.76,577.50 C672.66,578.01 673.68,579.13 674.03,580.03 C674.38,580.92 674.26,582.07 673.86,582.89 C673.47,583.70 672.04,584.57 671.68,584.91" fill="none" stroke="#f01018" stroke-width="2.7" stroke-linecap="round"/>
<text x="653.0" y="597.9" font-size="9.6" font-weight="bold" textLength="19.4" lengthAdjust="spacingAndGlyphs" style="font-family:'Liberation Serif',serif;fill:#141c2c">BCC</text>
</g>
<g id="ncc-logo" fill="none" stroke="#1c1cff">
<ellipse cx="708.2" cy="585.9" rx="19.2" ry="12.2" stroke-width="1.3"/>
<ellipse cx="708.2" cy="585.9" rx="16.4" ry="9.8" stroke-width="0.9"/>
<ellipse cx="704.2" cy="585.9" rx="6.5" ry="9.8" stroke-width="0.8"/>
<path d="M691.8000000000001,585.9 H708.2 M693.7,581.3 H709.2 M693.7,590.5 H709.2 M704.2,576.1 V595.6999999999999" stroke-width="0.8"/>
<path d="M694.7,583.6999999999999 l2.6,-2.6 l3.6,-0.6 l3.2,1.2 l1.6,2.2 l-1.2,3 l-2.6,2.4 l-3.4,0.4 l-2.4,-2 z" stroke-width="1.1"/>
<path d="M694.7,574.7 A22,14.6 0 0 0 704.2,600.3" stroke-width="0.9"/>
<path d="M721.7,574.7 A22,14.6 0 0 1 712.2,600.3" stroke-width="0.9"/>
<path d="M700.7,599.1 H715.7" stroke-width="1.8"/>
<path d="M704.2,601.3 l2,1 l2,-1 l2,1 l2,-1" stroke-width="1"/>
</g>
<g id="ncc-wreath" fill="#1c1cff">
<ellipse cx="693.73" cy="573.21" rx="2.3" ry="0.95" transform="rotate(120.6 693.73 573.21)"/>
<ellipse cx="695.46" cy="575.42" rx="2.3" ry="0.95" transform="rotate(184.6 695.46 575.42)"/>
<ellipse cx="689.89" cy="575.81" rx="2.3" ry="0.95" transform="rotate(108.5 689.89 575.81)"/>
<ellipse cx="692.07" cy="577.57" rx="2.3" ry="0.95" transform="rotate(172.5 692.07 577.57)"/>
<ellipse cx="687.01" cy="578.94" rx="2.3" ry="0.95" transform="rotate(93.8 687.01 578.94)"/>
<ellipse cx="689.53" cy="580.15" rx="2.3" ry="0.95" transform="rotate(157.8 689.53 580.15)"/>
<ellipse cx="685.25" cy="582.44" rx="2.3" ry="0.95" transform="rotate(76.3 685.25 582.44)"/>
<ellipse cx="687.98" cy="583.04" rx="2.3" ry="0.95" transform="rotate(140.3 687.98 583.04)"/>
<ellipse cx="684.70" cy="586.12" rx="2.3" ry="0.95" transform="rotate(56.8 684.70 586.12)"/>
<ellipse cx="687.50" cy="586.09" rx="2.3" ry="0.95" transform="rotate(120.8 687.50 586.09)"/>
<ellipse cx="685.40" cy="589.79" rx="2.3" ry="0.95" transform="rotate(37.4 685.40 589.79)"/>
<ellipse cx="688.11" cy="589.12" rx="2.3" ry="0.95" transform="rotate(101.4 688.11 589.12)"/>
<ellipse cx="687.30" cy="593.26" rx="2.3" ry="0.95" transform="rotate(20.2 687.30 593.26)"/>
<ellipse cx="689.79" cy="591.98" rx="2.3" ry="0.95" transform="rotate(84.2 689.79 591.98)"/>
<ellipse cx="690.30" cy="596.33" rx="2.3" ry="0.95" transform="rotate(5.9 690.30 596.33)"/>
<ellipse cx="692.44" cy="594.52" rx="2.3" ry="0.95" transform="rotate(69.9 692.44 594.52)"/>
<ellipse cx="694.25" cy="598.86" rx="2.3" ry="0.95" transform="rotate(-5.9 694.25 598.86)"/>
<ellipse cx="695.92" cy="596.61" rx="2.3" ry="0.95" transform="rotate(58.1 695.92 596.61)"/>
<ellipse cx="698.94" cy="600.70" rx="2.3" ry="0.95" transform="rotate(-16.1 698.94 600.70)"/>
<ellipse cx="700.05" cy="598.12" rx="2.3" ry="0.95" transform="rotate(47.9 700.05 598.12)"/>
<ellipse cx="704.12" cy="601.76" rx="2.3" ry="0.95" transform="rotate(-25.3 704.12 601.76)"/>
<ellipse cx="704.61" cy="599.00" rx="2.3" ry="0.95" transform="rotate(38.7 704.61 599.00)"/>
<ellipse cx="722.67" cy="573.21" rx="2.3" ry="0.95" transform="rotate(59.4 722.67 573.21)"/>
<ellipse cx="720.94" cy="575.42" rx="2.3" ry="0.95" transform="rotate(-4.6 720.94 575.42)"/>
<ellipse cx="726.51" cy="575.81" rx="2.3" ry="0.95" transform="rotate(71.5 726.51 575.81)"/>
<ellipse cx="724.33" cy="577.57" rx="2.3" ry="0.95" transform="rotate(7.5 724.33 577.57)"/>
<ellipse cx="729.39" cy="578.94" rx="2.3" ry="0.95" transform="rotate(86.2 729.39 578.94)"/>
<ellipse cx="726.87" cy="580.15" rx="2.3" ry="0.95" transform="rotate(22.2 726.87 580.15)"/>
<ellipse cx="731.15" cy="582.44" rx="2.3" ry="0.95" transform="rotate(103.7 731.15 582.44)"/>
<ellipse cx="728.42" cy="583.04" rx="2.3" ry="0.95" transform="rotate(39.7 728.42 583.04)"/>
<ellipse cx="731.70" cy="586.12" rx="2.3" ry="0.95" transform="rotate(123.2 731.70 586.12)"/>
<ellipse cx="728.90" cy="586.09" rx="2.3" ry="0.95" transform="rotate(59.2 728.90 586.09)"/>
<ellipse cx="731.00" cy="589.79" rx="2.3" ry="0.95" transform="rotate(142.6 731.00 589.79)"/>
<ellipse cx="728.29" cy="589.12" rx="2.3" ry="0.95" transform="rotate(78.6 728.29 589.12)"/>
<ellipse cx="729.10" cy="593.26" rx="2.3" ry="0.95" transform="rotate(159.8 729.10 593.26)"/>
<ellipse cx="726.61" cy="591.98" rx="2.3" ry="0.95" transform="rotate(95.8 726.61 591.98)"/>
<ellipse cx="726.10" cy="596.33" rx="2.3" ry="0.95" transform="rotate(174.1 726.10 596.33)"/>
<ellipse cx="723.96" cy="594.52" rx="2.3" ry="0.95" transform="rotate(110.1 723.96 594.52)"/>
<ellipse cx="722.15" cy="598.86" rx="2.3" ry="0.95" transform="rotate(185.9 722.15 598.86)"/>
<ellipse cx="720.48" cy="596.61" rx="2.3" ry="0.95" transform="rotate(121.9 720.48 596.61)"/>
<ellipse cx="717.46" cy="600.70" rx="2.3" ry="0.95" transform="rotate(196.1 717.46 600.70)"/>
<ellipse cx="716.35" cy="598.12" rx="2.3" ry="0.95" transform="rotate(132.1 716.35 598.12)"/>
<ellipse cx="712.28" cy="601.76" rx="2.3" ry="0.95" transform="rotate(205.3 712.28 601.76)"/>
<ellipse cx="711.79" cy="599.00" rx="2.3" ry="0.95" transform="rotate(141.3 711.79 599.00)"/>
</g>
<text x="698.7" y="573.6" font-size="4.8" letter-spacing="8.6" style="font-family:'Liberation Sans','Noto Sans CJK SC',sans-serif;fill:#1c1cff;stroke:#1c1cff;stroke-width:0.25">中国</text>
<text x="707.3" y="590.8" font-size="13" font-weight="bold" font-style="italic" textLength="18.8" lengthAdjust="spacingAndGlyphs" style="font-family:'Liberation Sans',sans-serif;fill:#1c1cff;stroke:#1c1cff;stroke-width:0.6;paint-order:stroke">NCC</text>
</svg></body></html>
